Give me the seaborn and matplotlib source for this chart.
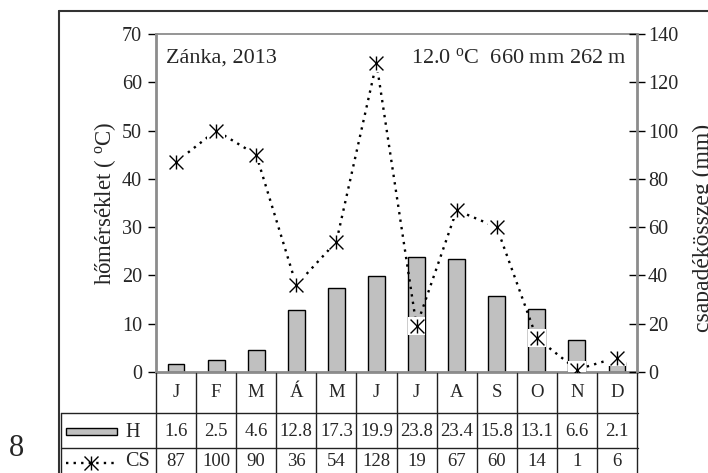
import numpy as np
import pandas as pd
import matplotlib
matplotlib.use("Agg")
import matplotlib.pyplot as plt
import matplotlib.transforms as mtransforms
from matplotlib.patches import Rectangle
import seaborn as sns

# Monthly climate data
months = ["J", "F", "M", "Á", "M", "J", "J", "A", "S", "O", "N", "D"]
temp_h = [1.6, 2.5, 4.6, 12.8, 17.3, 19.9, 23.8, 23.4, 15.8, 13.1, 6.6, 2.1]
precip_cs = [87, 100, 90, 36, 54, 128, 19, 67, 60, 14, 1, 6]

station = "Zánka, 2013"
summary = r"12.0 $^\mathrm{o}$C  660 mm 262 m"
temp_label = r"hőmérséklet ( $^\mathrm{o}$C)"
precip_label = "csapadékösszeg (mm)"
row_labels = ["H", "CS"]
temp_ticks = [0, 10, 20, 30, 40, 50, 60, 70]
precip_ticks = [0, 20, 40, 60, 80, 100, 120, 140]
page_number = "8"

sns.set_style("white")
plt.rcParams["font.family"] = ["Liberation Serif", "DejaVu Serif"]
plt.rcParams["mathtext.fontset"] = "custom"
plt.rcParams["mathtext.rm"] = "Liberation Serif"
plt.rcParams["mathtext.it"] = "Liberation Serif:italic"

W, H = 708, 473
fig = plt.figure(figsize=(W / 100, H / 100), dpi=100)

# plot area in pixels
L, R, T, B = 156, 637, 34, 372
ax = fig.add_axes([L / W, 1 - B / H, (R - L) / W, (B - T) / H])

df = pd.DataFrame({"pos": np.arange(len(months)), "H": temp_h, "CS": precip_cs})

GRAY_AX = "#8c8c8c"
sns.barplot(data=df, x="pos", y="H", ax=ax, color="#c0c0c0", saturation=1,
            edgecolor="black", linewidth=1.0, width=0.42, zorder=2)
ax.set_xlim(-0.5, 11.5)
ax.set_ylim(0, 70)
ax.set_yticks(temp_ticks)
ax.set_xticks([])
ax.set_xlabel("")
ax.set_ylabel(temp_label, fontsize=16.5, labelpad=3)
ax.tick_params(axis="y", direction="out", length=6, width=1, color="black",
               labelsize=14.5, pad=4, left=True)
for side in ["left", "top", "bottom"]:
    ax.spines[side].set_visible(True)
    ax.spines[side].set_color(GRAY_AX)
ax.spines["left"].set_linewidth(2.0)
ax.spines["bottom"].set_linewidth(2.0)
ax.spines["top"].set_linewidth(1.3)
ax.spines["right"].set_visible(False)

# precipitation on the secondary axis
ax2 = ax.twinx()
sns.lineplot(data=df, x="pos", y="CS", ax=ax2, color="black",
             linestyle=(0, (1, 2.2)), linewidth=1.7, zorder=2)
sns.scatterplot(data=df, x="pos", y="CS", ax=ax2, marker="s", s=160,
                color="white", edgecolor="none", linewidth=0, zorder=3)
sns.scatterplot(data=df, x="pos", y="CS", ax=ax2, marker="x", s=100,
                color="black", linewidth=1.0, zorder=4)
sns.scatterplot(data=df, x="pos", y="CS", ax=ax2, marker="|", s=115,
                color="black", linewidth=1.0, zorder=4)
ax2.set_ylim(0, 140)
ax2.set_yticks(precip_ticks)
ax2.set_xlim(-0.5, 11.5)
ax2.set_xticks([])
ax2.set_xlabel("")
ax2.set_ylabel("")
ax2.tick_params(axis="y", direction="inout", length=12, width=1, color="black",
                labelsize=14.5, pad=2, right=True)
for side in ["left", "top", "bottom"]:
    ax2.spines[side].set_visible(False)
ax2.spines["right"].set_visible(True)
ax2.spines["right"].set_color(GRAY_AX)
ax2.spines["right"].set_linewidth(2.0)

ax.text(0.02, 0.93, station, transform=ax.transAxes, fontsize=16,
        ha="left", va="center")
ax.text(0.98, 0.93, summary, transform=ax.transAxes, fontsize=16,
        ha="right", va="center")

# overlay in pixel coordinates for the frame and data table
ov = fig.add_axes([0, 0, 1, 1], zorder=5)
ov.set_xlim(0, W)
ov.set_ylim(H, 0)
ov.axis("off")
ov.patch.set_alpha(0)
blend = mtransforms.blended_transform_factory(ax.transData, ov.transData)

line_kw = dict(color="#222222", linewidth=1.0, clip_on=False)
# outer frame
ov.plot([59, 59], [11, H + 5], color="#333333", linewidth=1.5, clip_on=False)
ov.plot([59, W + 5], [11, 11], color="#333333", linewidth=1.5, clip_on=False)

# table grid
ov.plot([61, 638], [413, 413], **line_kw)
ov.plot([61, 638], [448, 448], **line_kw)
ov.plot([61, 61], [413, H + 5], **line_kw)
for i in range(len(months) + 1):
    ov.plot([i - 0.5, i - 0.5], [373, H + 5], transform=blend, **line_kw)

# table text
for i, m in enumerate(months):
    ov.text(i, 392, m, transform=blend, ha="center", va="center", fontsize=13.5)
    ov.text(i, 431, f"{temp_h[i]:.1f}", transform=blend, ha="center",
            va="center", fontsize=13.5)
    ov.text(i, 461, f"{precip_cs[i]}", transform=blend, ha="center",
            va="center", fontsize=13.5)

# legend keys inside the table
ov.add_patch(Rectangle((66, 428), 51, 7, facecolor="#c0c0c0",
                       edgecolor="black", linewidth=1.0, clip_on=False))
ov.text(125, 432, row_labels[0], ha="left", va="center", fontsize=14.5)
ov.plot([66, 117], [463, 463], color="black", linestyle=(0, (1, 2.2)),
        linewidth=1.7, clip_on=False)
ov.plot([91], [463], marker="x", markersize=10, color="black",
        markeredgewidth=1.0, clip_on=False)
ov.plot([91], [463], marker="|", markersize=10.5, color="black",
        markeredgewidth=1.0, clip_on=False)
ov.text(125, 461, row_labels[1], ha="left", va="center", fontsize=14.5)

# right axis title (runs past the right edge) and page number
ov.text(693, 228, precip_label, rotation=90, ha="left", va="center",
        fontsize=17, clip_on=False)
ov.text(17, 448, page_number, ha="center", va="center", fontsize=22)

fig.savefig("out.png", dpi=100)
